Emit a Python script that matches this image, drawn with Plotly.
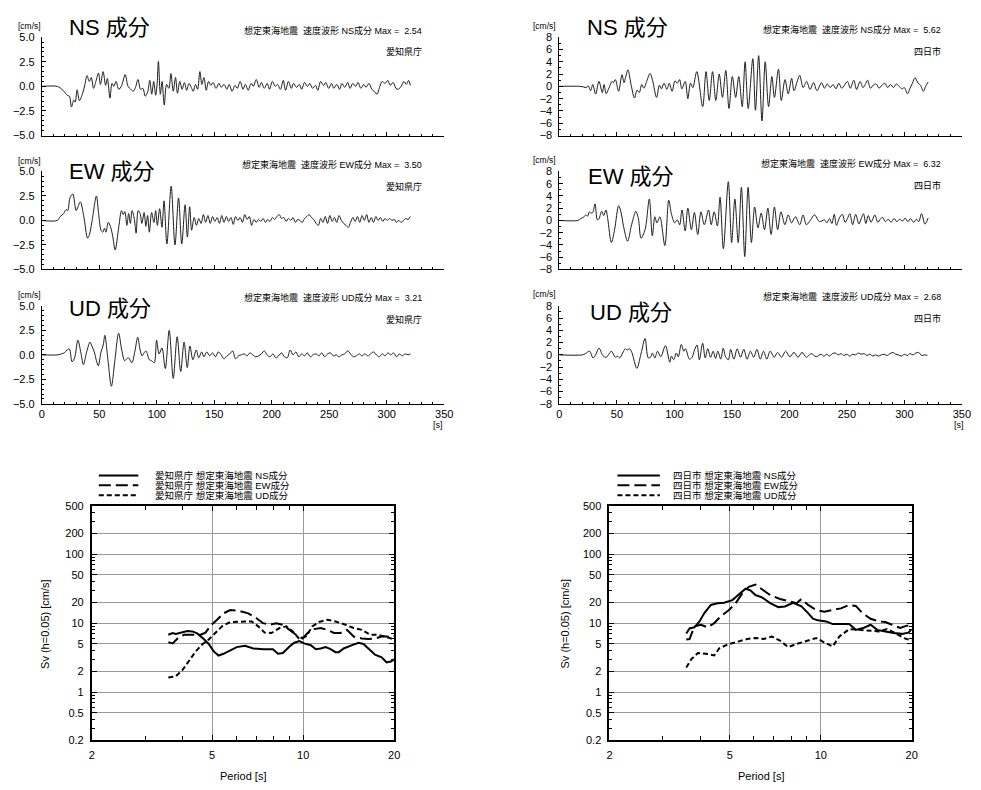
import plotly.graph_objects as go

W, H = 981, 790
FONT = "Liberation Sans, Arial, Noto Sans CJK JP, sans-serif"

# ---------------- velocity waveforms: (time [s], velocity [cm/s]) ----------------
aichi_ns = [
    (0, 0), (13.5, 0), (16.5, -0.2), (19.2, -0.5), (22.0, -0.9), (24.0, -1.0), (25.8, -2.1), (27.8, -1.4),
    (29.0, -1.6), (30.7, -0.35), (32.7, -1.45), (35.5, -0.7), (37.5, 0.2), (39.3, 1.1), (41.3, 0.5), (43.0, 0.9),
    (45.0, -0.2), (47.0, 0.5), (49.3, 1.35), (51.0, 0.2), (53.3, 1.5), (55.5, 0.1), (57.0, 0.8), (59.3, -1.2),
    (61.0, 0.3), (62.7, 0.0), (64.5, 0.5), (67.0, -0.3), (69.5, 0.1), (72.5, 1.2), (75.0, 0.0), (77.3, -0.3),
    (79.5, -0.5), (81.5, -0.1), (83.6, 0.7), (85.9, -0.3), (87.9, -0.2), (90.0, -1.0), (92.2, -0.5), (93.9, 0.6),
    (95.6, -0.8), (97.3, 0.5), (99.0, -0.9), (100.3, 0.3), (101.4, 2.54), (103.1, -0.8), (104.6, 0.5), (106.5, -1.9),
    (108.5, 0.2), (110.5, -0.2), (112.3, 1.3), (114.3, -0.5), (116.3, 0.9), (118.0, -0.7), (120.0, 0.5), (122.0, -0.3),
    (124.0, 0.4), (126.0, -0.4), (128.0, 0.3), (130.0, -0.1), (131.7, -0.5), (133.7, 0.2), (135.5, -0.3), (137.5, 1.5),
    (139.2, 0.2), (141.0, 0.9), (143.0, -0.4), (145.0, 0.5), (147.0, 0.1), (149.0, 0.4), (151.5, -0.2), (154.0, 0.3),
    (156.0, -0.1), (158.5, 0.2), (161.0, -0.3), (163.0, 0.2), (165.5, -0.5), (168.0, 0.1), (170.0, -0.2), (172.5, 0.5),
    (175.0, -0.3), (177.0, 0.2), (179.5, -0.4), (182.0, 0.3), (184.0, 0.0), (186.5, 0.7), (189.0, -0.1), (191.0, 0.4),
    (193.5, -0.2), (196.0, 0.3), (198.0, -0.3), (200.5, 0.5), (203.0, 0.0), (205.0, 0.2), (207.5, -0.3), (210.0, 0.6),
    (212.0, -0.4), (214.5, 0.5), (217.0, -0.2), (219.0, 0.3), (221.5, -0.1), (224.0, 0.2), (226.0, -0.3), (228.5, 0.4),
    (231.0, 0.0), (233.0, 0.3), (235.5, -0.2), (238.0, 0.1), (240.0, -0.4), (242.5, 0.5), (245.0, 0.1), (247.0, 0.4),
    (249.5, -0.2), (252.0, 0.3), (254.0, -0.2), (256.5, 0.2), (259.0, -0.3), (261.0, 0.3), (263.5, -0.1), (266.0, 0.4),
    (268.0, -0.2), (270.5, 0.3), (273.0, 0.0), (275.0, 0.4), (277.5, -0.2), (280.0, 0.2), (282.0, -0.1), (284.5, 0.3),
    (287.0, -0.3), (289.0, -0.5), (291.5, -0.8), (294.0, 0.0), (296.0, 0.5), (298.5, 0.3), (301.0, 0.6), (303.0, 0.1),
    (305.5, 0.4), (308.0, -0.2), (310.0, -0.3), (312.5, 0.0), (315.0, 0.5), (317.0, 0.2), (319.0, 0.6), (320.5, 0.1),
]

aichi_ew = [
    (0, 0), (13.5, 0), (16.0, 0.4), (19.0, 0.7), (21.0, 1.1), (22.5, 1.0), (24.5, 2.3), (27.0, 2.7), (29.8, 1.0),
    (31.5, 1.4), (33.5, 1.9), (36.4, 0.5), (39.8, -1.8), (41.5, -1.4), (43.5, -0.2), (47.5, 2.5), (49.3, 0.8),
    (51.5, -1.0), (53.0, -1.2), (54.5, -0.8), (55.8, -1.2), (57.8, -0.2), (59.6, -0.6), (61.5, -1.5), (63.8, -3.0),
    (67.0, -0.6), (69.3, 1.0), (70.8, 0.6), (72.2, 0.9), (74.0, -0.5), (75.5, 0.7), (77.0, -0.3), (78.5, 1.0),
    (80.5, 0.1), (82.0, -1.3), (83.8, 1.0), (85.5, 0.7), (87.0, -0.3), (89.0, 0.8), (90.5, -0.6), (92.0, 0.5),
    (93.5, -1.2), (95.5, 0.8), (97.5, -0.2), (99.0, 1.0), (100.5, -0.5), (102.5, 1.2), (104.5, -0.7), (106.3, 2.0),
    (108.8, -2.4), (112.5, 3.50), (115.8, -2.5), (118.9, 2.3), (121.7, -2.4), (124.6, 1.6), (126.6, -1.7),
    (128.6, 1.4), (130.3, -1.0), (132.5, 0.3), (134.5, -0.5), (136.5, 0.2), (138.5, -0.3), (140.5, 0.6), (142.5, -0.2),
    (144.5, 0.5), (146.5, -0.3), (148.5, 0.4), (150.5, -0.1), (152.5, 0.3), (154.5, -0.3), (156.5, 0.5), (158.5, -0.2),
    (160.5, 0.4), (162.5, -0.1), (164.5, 0.3), (166.5, -0.4), (168.5, 0.4), (170.5, 0.0), (172.5, 0.3), (174.5, -0.2),
    (176.5, 0.6), (178.5, 0.1), (180.5, 0.4), (182.5, -0.5), (184.5, 0.1), (186.5, -0.2), (188.5, 0.1), (190.5, -0.1),
    (192.5, 0.2), (194.5, -0.2), (196.5, 0.1), (198.5, -0.1), (200.5, 0.3), (202.5, 0.1), (204.5, 0.4), (206.5, 0.6),
    (208.5, 0.2), (210.5, 0.3), (212.5, -0.1), (214.5, 0.2), (216.5, 0.0), (218.5, 0.3), (220.5, -0.2), (222.5, 0.1),
    (224.5, 0.0), (226.5, -0.2), (228.5, 0.2), (230.5, 0.4), (232.5, 0.6), (234.5, 0.3), (236.5, 0.1), (238.5, -0.3),
    (240.5, -0.5), (242.5, 0.2), (244.5, -0.2), (246.5, 0.4), (248.5, -0.3), (250.5, 0.5), (252.5, -0.1), (254.5, 0.3),
    (256.5, -0.2), (258.5, 0.5), (260.5, 0.0), (262.5, -0.3), (264.5, -0.5), (266.5, -0.7), (268.5, -0.2), (270.5, 0.3),
    (272.5, -0.1), (274.5, 0.4), (276.5, -0.2), (278.5, 0.5), (280.5, 0.0), (282.5, 0.6), (284.5, -0.2), (286.5, 0.3),
    (288.5, -0.2), (290.5, 0.4), (292.5, 0.0), (294.5, 0.3), (296.5, -0.1), (298.5, 0.2), (300.5, 0.0), (302.5, 0.2),
    (304.5, 0.0), (306.5, 0.1), (308.5, -0.2), (310.5, 0.0), (312.5, -0.2), (314.5, 0.0), (316.5, 0.2), (318.5, 0.1),
    (320.5, 0.4),
]

aichi_ud = [
    (0, 0), (14.0, 0), (17.0, 0.1), (19.5, 0.2), (22.0, 0.5), (24.0, 0.6), (26.3, -0.7), (28.5, -0.3), (31.4, 1.5),
    (34.0, 0.2), (36.2, -1.0), (39.0, 0.3), (41.9, 1.3), (43.5, 0.9), (45.6, 0.3), (47.5, -0.6), (49.1, -1.1),
    (51.5, 0.3), (53.4, 1.0), (54.8, 2.0), (57.5, -0.5), (60.5, -3.21), (63.5, -0.6), (66.8, 2.2), (69.5, 0.5),
    (72.0, -0.6), (73.8, -0.4), (75.4, -0.3), (78.3, -0.8), (81.0, 0.4), (83.4, 1.8), (85.5, 0.5), (87.2, -0.1),
    (88.9, 0.2), (90.6, 0.4), (92.0, 0.0), (93.5, -0.5), (95.5, -0.6), (97.8, -0.8), (99.8, 1.5), (102.0, 0.1),
    (104.5, 0.7), (107.4, -1.4), (110.8, 2.5), (114.3, -2.4), (117.7, 1.85), (120.8, -1.7), (123.7, 1.3),
    (126.5, -1.3), (128.8, 0.9), (131.4, -0.5), (134.3, 0.5), (136.5, -0.3), (139.0, 0.3), (141.0, -0.2),
    (143.5, 0.3), (146.0, -0.1), (148.5, 0.2), (151.0, -0.2), (153.5, 0.3), (156.0, 0.0), (158.5, -0.4),
    (161.0, -0.1), (163.5, 0.1), (166.0, 0.4), (168.5, -0.4), (171.0, -0.1), (173.5, 0.0), (176.0, 0.1),
    (178.5, -0.1), (181.0, 0.2), (183.5, 0.0), (186.0, -0.2), (188.5, -0.1), (191.0, 0.1), (193.5, 0.4),
    (196.0, 0.0), (198.5, -0.2), (201.0, 0.1), (203.5, -0.3), (206.0, -0.1), (208.5, 0.2), (211.0, -0.2),
    (213.5, -0.3), (216.0, 0.5), (218.5, 0.0), (221.0, 0.3), (223.5, -0.2), (226.0, 0.1), (228.5, -0.1),
    (231.0, 0.2), (233.5, -0.2), (236.0, 0.0), (238.5, 0.1), (241.0, -0.1), (243.5, 0.2), (246.0, -0.2),
    (248.5, 0.1), (251.0, 0.2), (253.5, -0.1), (256.0, 0.0), (258.5, -0.2), (261.0, 0.0), (263.5, 0.1),
    (266.0, 0.4), (268.5, 0.1), (271.0, -0.2), (273.5, -0.1), (276.0, 0.1), (278.5, -0.1), (281.0, 0.1),
    (283.5, -0.1), (286.0, 0.1), (288.5, 0.3), (291.0, 0.0), (293.5, -0.2), (296.0, 0.1), (298.5, -0.1),
    (301.0, 0.2), (303.5, 0.0), (306.0, 0.2), (308.5, -0.2), (311.0, 0.1), (313.5, -0.1), (316.0, 0.1),
    (318.5, 0.0), (320.5, 0.1),
]

yokkaichi_ns = [
    (0, 0), (18.0, 0), (21.0, -0.1), (23.5, -0.2), (25.0, 0.1), (27.2, -0.7), (29.0, 0.3), (31.5, -1.25),
    (34.4, 0.8), (37.3, -1.0), (38.8, 0.3), (40.7, -1.2), (43.0, -0.3), (45.8, 0.8), (47.0, 0.6), (48.7, 1.1),
    (51.5, -0.8), (54.4, 1.9), (56.2, 0.6), (57.6, 1.5), (59.6, 2.7), (62.4, 0.2), (65.3, -1.9), (67.5, -0.6),
    (69.5, -1.0), (71.6, 0.3), (73.5, -0.3), (75.5, 0.6), (78.8, 2.1), (81.0, 1.0), (84.5, -1.8), (87.0, 0.2),
    (88.8, -0.4), (91.0, 0.5), (93.5, -0.5), (95.5, 0.5), (98.0, -0.8), (100.5, 0.9), (102.5, 0.5), (104.5, 1.1),
    (106.5, -0.4), (109.4, 0.8), (111.7, -2.0), (114.0, 0.5), (116.0, -0.2), (119.5, 2.4), (124.6, -3.3),
    (127.5, 2.4), (130.3, -2.3), (133.2, 2.4), (136.0, -2.3), (139.0, 2.0), (141.8, -1.8), (144.7, 2.6),
    (147.5, -3.6), (150.4, 1.6), (153.3, -1.8), (156.0, 1.6), (159.0, -3.3), (161.5, 4.0), (164.2, -3.6),
    (168.2, 4.5), (170.5, -3.9), (173.3, 5.0), (176.2, -5.62), (179.0, 4.0), (181.9, -3.3), (184.8, 1.6),
    (187.0, -1.8), (190.5, 2.8), (193.0, -2.3), (196.2, 1.1), (199.0, -1.2), (202.0, 1.3), (204.0, -0.7),
    (207.0, 0.9), (209.0, 1.8), (212.0, -0.2), (215.0, 0.8), (218.0, -0.5), (221.0, 0.6), (224.0, -0.7),
    (228.0, 0.6), (230.5, -0.3), (233.0, 0.4), (235.5, -0.2), (238.0, 0.3), (240.5, -0.4), (243.0, 0.5),
    (245.5, -0.3), (248.0, 0.2), (250.5, 0.8), (253.0, -0.3), (256.0, 1.0), (258.5, -0.5), (261.5, 0.8),
    (264.0, -0.2), (266.0, 0.3), (268.0, 1.0), (270.5, -0.3), (273.0, 0.2), (275.5, 0.4), (278.0, -0.3),
    (280.5, 0.2), (283.0, 0.5), (285.5, -0.2), (288.0, 0.3), (290.5, -0.2), (293.0, 0.4), (295.5, 0.0),
    (298.0, -0.4), (300.0, -0.2), (302.7, -1.2), (305.0, -0.3), (307.0, 0.5), (309.3, 1.4), (312.0, 0.5),
    (314.0, 0.2), (316.5, -0.8), (318.5, 0.0), (320.7, 0.7),
]

yokkaichi_ew = [
    (0, 0), (16.0, 0), (18.6, 0.3), (21.5, 0.6), (23.0, 0.9), (24.5, 0.7), (26.0, 1.4), (27.5, 1.2), (29.0, 1.3),
    (31.0, 2.7), (33.0, 0.1), (34.5, 0.3), (36.7, 1.5), (38.5, 0.8), (40.5, 1.7), (42.0, 0.3), (45.2, -3.6),
    (48.0, -1.5), (51.5, 2.4), (53.5, 1.4), (55.8, -1.0), (59.3, -3.4), (62.4, -1.0), (64.5, 0.5), (66.4, 1.5),
    (68.7, 0.3), (71.0, -2.9), (74.5, -1.5), (78.2, 3.5), (80.8, -2.5), (83.0, 0.6), (84.8, -0.4), (87.4, 0.6),
    (91.7, -4.1), (95.1, 3.3), (97.5, 1.0), (100.3, -0.4), (102.5, 0.1), (104.6, -0.7), (106.6, 1.7),
    (109.4, -1.7), (111.7, 2.0), (114.8, -1.5), (117.4, 1.3), (120.3, -2.3), (123.1, 1.4), (126.0, -0.7),
    (129.7, 1.7), (132.0, -0.7), (134.6, 1.4), (137.4, -0.9), (139.7, 3.8), (142.6, -4.6), (146.9, 6.32),
    (149.8, -3.6), (152.6, 3.5), (155.5, -3.6), (158.3, 5.4), (161.2, -5.9), (164.1, 5.4), (167.0, -3.6),
    (169.8, 2.2), (172.7, -1.2), (175.5, 1.2), (178.4, -1.5), (181.3, 2.0), (184.1, -2.3), (187.0, 2.2),
    (189.8, -1.5), (192.7, 1.4), (196.1, -0.7), (199.0, 0.9), (201.9, -0.4), (205.3, 0.6), (209.0, -0.7),
    (211.9, 0.9), (214.8, -0.7), (218.5, 0.1), (221.9, 0.9), (226.2, -0.2), (230.5, 0.1), (232.5, -0.4),
    (235.0, 0.3), (237.0, -0.5), (239.0, 1.0), (241.0, -0.8), (243.5, 0.4), (246.0, 1.0), (248.5, -0.3),
    (250.5, 0.3), (252.6, 1.1), (255.0, -0.7), (257.7, 1.0), (260.5, -0.6), (262.5, 0.3), (264.5, 1.1),
    (266.5, -0.5), (268.6, 0.8), (271.0, -0.3), (272.5, 0.2), (274.3, 0.9), (277.0, -0.3), (279.0, 0.2),
    (281.0, 0.5), (283.5, -0.2), (286.0, 0.2), (288.5, -0.3), (291.0, 0.3), (293.5, -0.2), (296.0, 0.2),
    (298.5, -0.1), (300.7, 0.4), (303.0, -0.2), (305.5, 0.3), (308.0, -0.3), (310.5, 0.2), (312.5, -0.2),
    (315.0, 1.1), (317.9, -0.6), (320.7, 0.4),
]

yokkaichi_ud = [
    (0, 0), (20.0, 0), (22.5, 0.2), (26.3, 0.6), (29.2, -0.5), (31.5, 0.0), (34.4, 1.1), (37.8, -0.1),
    (40.7, -0.4), (43.0, 0.1), (45.2, 0.6), (48.7, -0.4), (50.5, -0.2), (52.4, -0.5), (55.0, 0.3), (57.3, 1.0),
    (59.0, 0.8), (61.0, 1.0), (63.0, 0.4), (67.3, -2.2), (71.0, 0.2), (74.5, 2.68), (77.3, -0.5), (79.6, -0.3),
    (80.8, 0.3), (83.0, -0.5), (85.3, 0.6), (88.2, -0.3), (92.2, 1.5), (96.0, -1.2), (97.4, -0.2), (99.4, -0.8),
    (101.7, 0.3), (103.4, -0.3), (106.0, 1.7), (108.2, 0.6), (109.7, 1.0), (113.1, -0.7), (115.4, -0.4),
    (117.5, 0.8), (119.7, 1.6), (121.7, -0.8), (124.6, 1.9), (126.8, -0.5), (129.0, 1.0), (131.5, -0.4),
    (133.7, 0.6), (135.8, -0.6), (137.8, 0.6), (140.3, -0.7), (142.5, 1.1), (144.5, -0.3), (147.0, -0.8),
    (148.9, 0.9), (151.8, -0.7), (154.6, 1.0), (157.5, -0.4), (160.4, 0.9), (163.2, -0.7), (166.1, 0.6),
    (169.0, -0.4), (171.8, 0.9), (174.7, -0.7), (177.5, 0.6), (180.4, -0.7), (183.3, 0.6), (186.8, -0.4),
    (189.8, 0.4), (193.2, -0.4), (196.7, 0.6), (200.4, -0.3), (204.0, 0.4), (207.6, -0.4), (211.0, 0.4),
    (214.8, -0.4), (219.0, 0.2), (223.3, -0.3), (227.6, 0.1), (230.0, -0.2), (232.5, 0.1), (235.0, -0.2),
    (237.5, 0.2), (240.0, 0.3), (242.5, 0.0), (245.0, 0.2), (247.5, -0.1), (250.0, 0.1), (252.5, -0.2),
    (255.0, 0.1), (257.5, 0.0), (260.0, 0.3), (262.5, 0.1), (265.0, 0.2), (267.5, -0.1), (270.0, 0.1),
    (272.5, -0.2), (275.0, 0.0), (277.5, -0.2), (280.0, 0.0), (282.5, 0.1), (285.0, -0.1), (287.5, 0.2),
    (290.0, 0.4), (292.5, 0.1), (295.0, 0.0), (297.5, -0.2), (300.0, 0.1), (302.5, -0.1), (305.0, 0.2),
    (307.5, 0.0), (310.0, 0.3), (312.5, 0.4), (315.0, -0.1), (317.5, 0.0), (320.0, -0.1),
]

# ---------------- velocity response spectra Sv (h=0.05): (period [s], Sv [cm/s]) ----------------
sv_aichi_ns = [
    (3.58, 6.8), (3.70, 7.2), (3.79, 7.0), (3.94, 7.3), (4.14, 7.7), (4.30, 7.6), (4.46, 7.1), (4.69, 5.9),
    (4.87, 5.0), (5.06, 3.9), (5.25, 3.4), (5.45, 3.6), (5.74, 4.0), (6.03, 4.5), (6.42, 4.7), (6.84, 4.3),
    (7.37, 4.2), (7.94, 4.2), (8.25, 3.6), (8.57, 3.7), (9.01, 4.6), (9.35, 5.2), (9.71, 5.5), (10.08, 5.1),
    (10.60, 4.8), (11.01, 4.2), (11.43, 4.3), (11.87, 4.5), (12.32, 4.2), (12.80, 3.8), (13.12, 3.8),
    (13.62, 4.3), (14.51, 4.8), (15.25, 5.2), (15.83, 5.0), (16.44, 4.3), (17.29, 3.5), (18.18, 3.2),
    (18.88, 2.7), (19.60, 2.8), (20.0, 3.0),
]
sv_aichi_ew = [
    (3.58, 5.3), (3.70, 5.1), (3.84, 6.0), (4.04, 6.8), (4.30, 6.8), (4.58, 6.8), (4.75, 7.3), (4.93, 9.1),
    (5.19, 11.2), (5.45, 13.9), (5.74, 15.5), (6.18, 15.0), (6.58, 13.9), (7.01, 11.8), (7.37, 10.0),
    (7.75, 9.5), (8.15, 10.0), (8.57, 9.5), (9.01, 8.0), (9.47, 6.8), (9.96, 6.0), (10.34, 7.2), (10.87, 8.2),
    (11.43, 8.5), (12.02, 8.0), (12.64, 7.2), (13.29, 7.2), (13.97, 8.0), (14.69, 6.4), (15.63, 6.0),
    (16.44, 5.9), (17.29, 6.0), (18.18, 6.4), (19.12, 6.4), (20.0, 6.6),
]
sv_aichi_ud = [
    (3.58, 1.63), (3.79, 1.7), (3.99, 2.1), (4.19, 2.8), (4.41, 3.9), (4.63, 4.9), (4.87, 5.8), (5.12, 7.2),
    (5.39, 9.0), (5.74, 10.4), (6.18, 10.6), (6.75, 10.6), (7.10, 9.0), (7.46, 7.3), (7.85, 7.2), (8.36, 8.5),
    (8.79, 9.0), (9.24, 7.6), (9.71, 5.9), (10.21, 6.4), (10.73, 9.0), (11.29, 10.4), (12.02, 11.2),
    (12.80, 10.6), (13.80, 9.5), (14.69, 8.5), (15.63, 8.0), (16.65, 6.8), (17.73, 6.8), (18.88, 6.3),
    (20.0, 5.8),
]
sv_yokkaichi_ns = [
    (3.59, 7.1), (3.68, 8.4), (3.82, 8.7), (3.97, 10.6), (4.12, 14.0), (4.33, 18.4), (4.55, 19.5),
    (4.79, 19.8), (5.10, 21.6), (5.36, 26.0), (5.64, 31.6), (5.85, 30.0), (6.08, 25.6), (6.39, 23.7),
    (6.80, 19.5), (7.24, 17.1), (7.61, 17.5), (8.11, 19.8), (8.63, 17.5), (9.08, 14.0), (9.42, 11.6),
    (9.78, 11.0), (10.42, 10.6), (10.95, 9.7), (11.66, 9.7), (12.42, 9.7), (13.06, 8.0), (13.90, 8.6),
    (14.62, 9.5), (15.37, 8.0), (16.36, 7.6), (17.42, 7.2), (18.55, 7.0), (19.50, 7.3), (20.0, 8.2),
]
sv_yokkaichi_ew = [
    (3.59, 5.8), (3.68, 5.9), (3.82, 9.0), (4.02, 9.5), (4.22, 8.7), (4.44, 10.0), (4.67, 12.6), (4.97, 15.5),
    (5.23, 19.5), (5.50, 27.0), (5.78, 33.7), (6.08, 36.3), (6.39, 31.0), (6.80, 25.6), (7.33, 22.4),
    (7.91, 20.8), (8.31, 19.5), (8.63, 22.4), (9.08, 18.4), (9.66, 15.5), (10.29, 14.7), (10.95, 15.5),
    (11.66, 16.4), (12.42, 18.4), (13.06, 17.8), (13.73, 14.0), (14.62, 11.6), (15.56, 10.6), (16.36, 10.4),
    (17.21, 9.5), (18.32, 8.5), (19.26, 9.2), (20.0, 9.2),
]
sv_yokkaichi_ud = [
    (3.59, 2.27), (3.73, 3.0), (3.92, 3.7), (4.17, 3.6), (4.44, 3.4), (4.61, 4.3), (4.91, 4.9), (5.29, 5.4),
    (5.71, 5.9), (6.08, 6.1), (6.47, 5.9), (6.89, 6.4), (7.33, 5.6), (7.81, 4.5), (8.31, 5.0), (8.85, 5.4),
    (9.66, 6.1), (10.16, 5.4), (10.95, 4.6), (11.52, 6.4), (12.42, 8.2), (13.39, 8.0), (14.43, 7.8),
    (15.56, 7.6), (16.57, 8.2), (17.64, 7.2), (18.79, 6.1), (20.0, 5.6),
]

sv_ticks = [0.2, 0.5, 1, 2, 5, 10, 20, 50, 100, 200, 500]
period_ticks = [2, 5, 10, 20]
components = ["NS", "EW", "UD"]
stations = ["愛知県庁", "四日市"]


def split(pairs):
    return [p[0] for p in pairs], [p[1] for p in pairs]


def fx(px):
    return px / W


def fy(py):
    return 1 - py / H


# panel geometry (pixels)
X_COLS = [(39.3, 446.7), (563.3, 970.7)]
ROWS = [(31.7, 131.5), (168.0, 267.5), (304.5, 404.0)]
SPEC_X = [(90.0, 396.0), (614.0, 920.0)]
SPEC_Y = (507.7, 745.7)

waves = [[aichi_ns, aichi_ew, aichi_ud], [yokkaichi_ns, yokkaichi_ew, yokkaichi_ud]]
y_ranges = [(-5, 5, 2.5, 0.5, ".1f"), (-8, 8, 2, 1, "d")]

fig = go.Figure()
layout = dict(
    width=W, height=H, margin=dict(l=0, r=0, t=0, b=0),
    paper_bgcolor="white", plot_bgcolor="white", showlegend=False,
    font=dict(family=FONT, size=11, color="black"),
)
annotations = []
shapes = []


def ann(text, px, py, size, xanchor="left", yanchor="middle", angle=0):
    annotations.append(dict(
        text=text, x=fx(px), y=fy(py), xref="paper", yref="paper", showarrow=False,
        xanchor=xanchor, yanchor=yanchor, textangle=angle,
        font=dict(family=FONT, size=size, color="black"),
    ))


title_pos = [[(65, 22), (65, 168), (65, 307)], [(589, 22), (590, 173), (592, 311)]]
info_pos = [[(24.7, 46), (160.7, 183.3), (296, 318.3)], [(24, 46), (160, 182.7), (295.3, 317.3)]]
info_right = [426.7, 952]
unit_pos = [[(27, 20.5), (27, 157.5), (27, 293.5)], [(548, 20.0), (548, 156.5), (548, 292.5)]]

idx = 0
for col in range(2):
    lo, hi, dt, mdt, fmt = y_ranges[col]
    for row in range(3):
        idx += 1
        sfx = "" if idx == 1 else str(idx)
        t, v = split(waves[col][row])
        fig.add_trace(go.Scatter(
            x=t, y=v, mode="lines", xaxis="x" + sfx, yaxis="y" + sfx,
            line=dict(color="#1e1e1e", width=1, shape="spline", smoothing=0.9),
            hoverinfo="skip",
        ))
        x0, x1 = X_COLS[col]
        top, bot = ROWS[row]
        layout["xaxis" + sfx] = dict(
            domain=[fx(x0), fx(x1)], anchor="y" + sfx, range=[0, 350],
            showline=True, linecolor="black", linewidth=1, mirror=False,
            ticks="inside", ticklen=4, tickcolor="black", tickwidth=1,
            tick0=0, dtick=50, showgrid=False, zeroline=False,
            minor=dict(dtick=10, ticks="inside", ticklen=2, tickcolor="black", showgrid=False),
            showticklabels=(row == 2), tickfont=dict(size=11, family=FONT),
        )
        layout["yaxis" + sfx] = dict(
            domain=[fy(bot), fy(top)], anchor="x" + sfx, range=[lo, hi],
            showline=True, linecolor="black", linewidth=1,
            ticks="inside", ticklen=4, tickcolor="black", tickwidth=1,
            tick0=lo, dtick=dt, tickformat=fmt, showgrid=False, zeroline=False,
            minor=dict(dtick=mdt, ticks="inside", ticklen=2, tickcolor="black", showgrid=False),
            tickfont=dict(size=11, family=FONT), ticklabelstandoff=4,
        )
        comp = components[row]
        peak = max(abs(val) for val in v)
        tx, ty = title_pos[col][row]
        ann(f"{comp} 成分", tx, ty, 22)
        iy1, iy2 = info_pos[col][row]
        ann(f"想定東海地震\u00a0\u00a0速度波形 {comp}成分 Max =\u00a0\u00a0{peak:.2f}", info_right[col], iy1, 9,
            xanchor="right")
        ann(stations[col], info_right[col], iy2, 9, xanchor="right")
        ux, uy = unit_pos[col][row]
        ann("[cm/s]", ux, uy, 8.5, xanchor="center")
    ann("[s]", [440, 967.7][col], 425.5, 9, xanchor="center")

# ---------------- response spectra ----------------
spectra = [[sv_aichi_ns, sv_aichi_ew, sv_aichi_ud], [sv_yokkaichi_ns, sv_yokkaichi_ew, sv_yokkaichi_ud]]
dashes = ["solid", "12px,5px", "5px,3px"]
minor_x = [3, 4, 6, 7, 8, 9]
minor_y = [0.3, 0.4, 0.6, 0.7, 0.8, 0.9, 3, 4, 6, 7, 8, 9, 30, 40, 60, 70, 80, 90, 300, 400]
legend_line = [(97, 137), (622, 665)]
legend_text_x = [152, 676]
legend_rows = [476.7, 486.7, 496.7]

for col in range(2):
    idx += 1
    sfx = str(idx)
    for k in range(3):
        p, s = split(spectra[col][k])
        fig.add_trace(go.Scatter(
            x=p, y=s, mode="lines", xaxis="x" + sfx, yaxis="y" + sfx,
            line=dict(color="black", width=2, dash=dashes[k]), hoverinfo="skip",
        ))
        lx0, lx1 = legend_line[col]
        shapes.append(dict(type="line", xref="paper", yref="paper",
                           x0=fx(lx0), x1=fx(lx1), y0=fy(legend_rows[k]), y1=fy(legend_rows[k]),
                           line=dict(color="black", width=2, dash=dashes[k])))
        ann(f"{stations[col]} 想定東海地震 {components[k]}成分", legend_text_x[col], legend_rows[k], 9.5)
    x0, x1 = SPEC_X[col]
    top, bot = SPEC_Y
    layout["xaxis" + sfx] = dict(
        domain=[fx(x0), fx(x1)], anchor="y" + sfx, type="log", range=[0.30103, 1.30103],
        tickvals=period_ticks, ticktext=[str(v) for v in period_ticks],
        showline=True, linecolor="black", linewidth=2, mirror="allticks",
        ticks="inside", ticklen=5, tickcolor="black",
        showgrid=True, gridcolor="#9a9a9a", gridwidth=1, zeroline=False,
        minor=dict(tickvals=minor_x, ticks="inside", ticklen=4, tickcolor="black", showgrid=False),
        tickfont=dict(size=11, family=FONT), ticklabelstandoff=3,
    )
    layout["yaxis" + sfx] = dict(
        domain=[fy(bot), fy(top)], anchor="x" + sfx, type="log", range=[-0.69897, 2.69897],
        tickvals=sv_ticks, ticktext=[str(v) for v in sv_ticks],
        showline=True, linecolor="black", linewidth=2, mirror="allticks",
        ticks="inside", ticklen=5, tickcolor="black",
        showgrid=True, gridcolor="#9a9a9a", gridwidth=1, zeroline=False,
        minor=dict(tickvals=minor_y, ticks="inside", ticklen=3, tickcolor="black", showgrid=False),
        tickfont=dict(size=11, family=FONT), ticklabelstandoff=4,
    )
    ann("Sv (h=0.05) [cm/s]", [43, 569][col], 627, 11, xanchor="center", angle=-90)
    ann("Period [s]", [243, 767][col], 781.5, 11, xanchor="center")

layout["annotations"] = annotations
layout["shapes"] = shapes
fig.update_layout(**layout)
fig.write_html("out.html")
